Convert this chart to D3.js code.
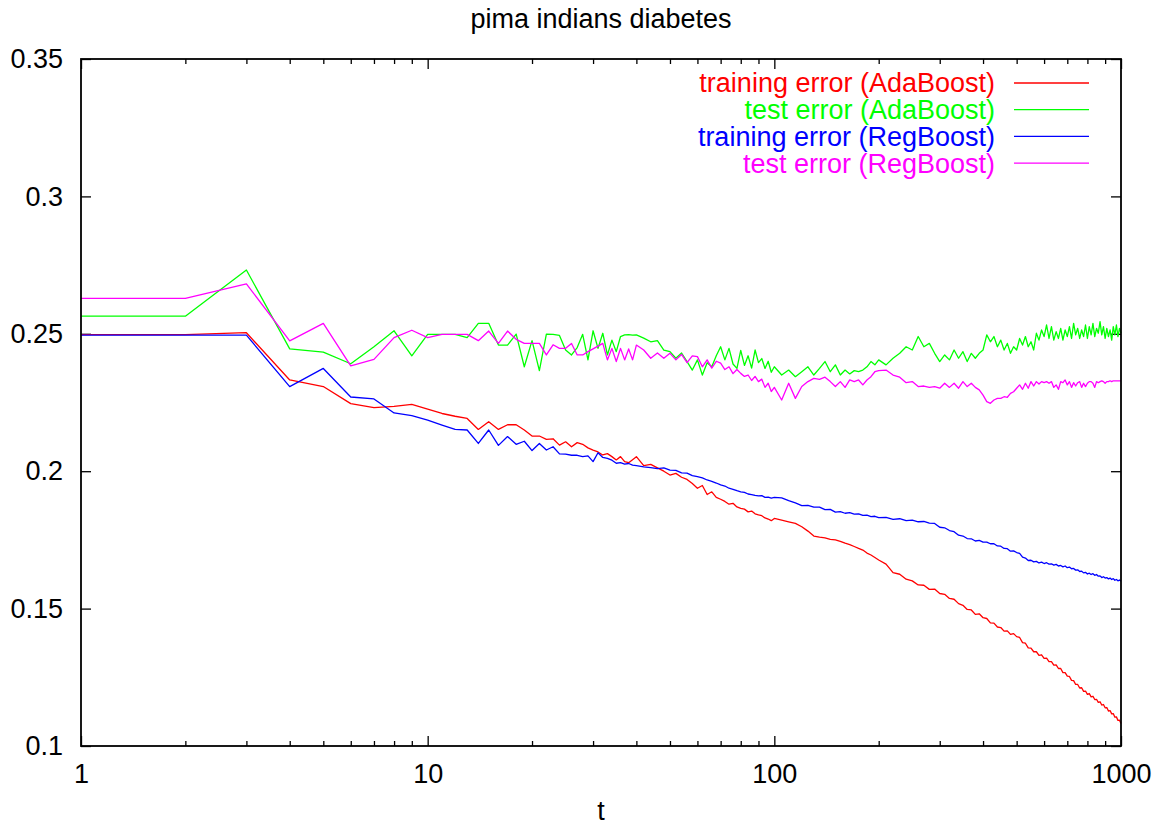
<!DOCTYPE html>
<html>
<head>
<meta charset="utf-8">
<script src="https://cdn.jsdelivr.net/npm/d3@7"></script>
<style>
  body { margin: 0; background: #fff; }
  text { font-family: "Liberation Sans", Arial, sans-serif; }
</style>
</head>
<body>
<div id="my_dataviz"></div>
<script>
// iteration grid t (1..40, then every 2, 5, 10)
var tValues = d3.range(1, 41)
  .concat(d3.range(42, 101, 2))
  .concat(d3.range(105, 201, 5))
  .concat(d3.range(210, 1001, 10));

var trainAda = [
  0.2497,0.2497,0.2504,0.2332,0.2308,0.2246,0.2231,0.2236,0.2243,0.2226,
  0.2210,0.2200,0.2192,0.2152,0.2180,0.2152,0.2169,0.2169,0.2150,0.2128,
  0.2128,0.2116,0.2118,0.2095,0.2107,0.2089,0.2104,0.2098,0.2085,0.2077,
  0.2070,0.2059,0.2064,0.2053,0.2041,0.2053,0.2035,0.2031,0.2042,0.2053,
  // 42..100
  0.2020,0.2025,0.2012,0.2000,0.1986,0.1992,0.1978,0.1970,0.1955,0.1938,
  0.1948,0.1915,0.1925,0.1905,0.1898,0.1890,0.1880,0.1883,0.1870,0.1865,
  0.1862,0.1852,0.1855,0.1845,0.1841,0.1838,0.1830,0.1826,0.1820,0.1828,
  // 105..200
  0.1822,0.1816,0.1810,0.1798,0.1782,0.1764,0.1760,0.1757,0.1752,0.1750,
  0.1745,0.1738,0.1733,0.1726,0.1719,0.1713,0.1702,0.1695,0.1686,0.1677,
  // 210..1000
  0.1662,0.1631,0.1625,0.1607,0.1601,0.1586,0.1585,0.1570,0.1571,0.1555,
  0.1552,0.1537,0.1534,0.1518,0.1512,0.1497,0.1495,0.1479,0.1481,0.1467,
  0.1464,0.1448,0.1447,0.1433,0.1431,0.1418,0.1419,0.1406,0.1409,0.1398,
  0.1395,0.1376,0.1374,0.1357,0.1356,0.1343,0.1343,0.1330,0.1332,0.1319,
  0.1320,0.1307,0.1307,0.1294,0.1295,0.1282,0.1282,0.1267,0.1267,0.1254,
  0.1253,0.1239,0.1238,0.1224,0.1224,0.1211,0.1212,0.1199,0.1200,0.1188,
  0.1191,0.1179,0.1181,0.1169,0.1170,0.1159,0.1161,0.1149,0.1151,0.1139,
  0.1140,0.1127,0.1129,0.1117,0.1118,0.1105,0.1106,0.1093,0.1094,0.1082
];

var testAda = [
  0.2564,0.2564,0.2732,0.2445,0.2433,0.2391,0.2453,0.2511,0.2420,0.2498,
  0.2498,0.2498,0.2486,0.2538,0.2538,0.2459,0.2459,0.2499,0.2380,0.2475,
  0.2366,0.2499,0.2498,0.2494,0.2441,0.2423,0.2450,0.2498,0.2405,0.2511,
  0.2447,0.2502,0.2423,0.2477,0.2435,0.2490,0.2496,0.2497,0.2495,0.2496,
  0.2484,0.2471,0.2475,0.2441,0.2435,0.2411,0.2430,0.2399,0.2368,0.2405,
  0.2350,0.2395,0.2380,0.2420,0.2453,0.2405,0.2447,0.2390,0.2374,0.2440,
  0.2385,0.2420,0.2375,0.2441,0.2395,0.2410,0.2374,0.2400,0.2360,0.2380,
  0.2350,0.2368,0.2344,0.2362,0.2380,0.2350,0.2374,0.2399,0.2362,0.2387,
  0.2350,0.2368,0.2354,0.2366,0.2362,0.2368,0.2380,0.2399,0.2387,0.2405,
  0.2387,0.2411,0.2429,0.2453,0.2441,0.2490,0.2453,0.2465,0.2429,0.2399,
  0.2423,0.2405,0.2441,0.2411,0.2435,0.2399,0.2429,0.2411,0.2429,0.2441,
  0.2496,0.2471,0.2490,0.2453,0.2477,0.2441,0.2465,0.2429,0.2453,0.2441,
  0.2483,0.2459,0.2490,0.2453,0.2471,0.2441,0.2502,0.2477,0.2514,0.2490,
  0.2532,0.2483,0.2526,0.2477,0.2508,0.2483,0.2520,0.2477,0.2514,0.2490,
  0.2526,0.2483,0.2538,0.2496,0.2520,0.2483,0.2514,0.2490,0.2532,0.2483,
  0.2526,0.2496,0.2538,0.2490,0.2520,0.2502,0.2544,0.2496,0.2526,0.2483,
  0.2520,0.2490,0.2514,0.2477,0.2526,0.2496,0.2532,0.2490,0.2520,0.2502
];

var trainReg = [
  0.2495,0.2495,0.2495,0.2308,0.2374,0.2270,0.2263,0.2212,0.2202,0.2186,
  0.2168,0.2152,0.2150,0.2101,0.2150,0.2094,0.2126,0.2098,0.2109,0.2075,
  0.2101,0.2077,0.2089,0.2063,0.2062,0.2058,0.2058,0.2053,0.2056,0.2035,
  0.2067,0.2050,0.2047,0.2040,0.2029,0.2031,0.2026,0.2028,0.2022,0.2020,
  0.2016,0.2013,0.2009,0.2012,0.2004,0.2003,0.1994,0.1993,0.1984,0.1980,
  0.1976,0.1968,0.1963,0.1957,0.1950,0.1946,0.1938,0.1934,0.1929,0.1925,
  0.1923,0.1917,0.1915,0.1912,0.1910,0.1911,0.1905,0.1906,0.1902,0.1905,
  0.1903,0.1893,0.1885,0.1875,0.1876,0.1869,0.1869,0.1860,0.1861,0.1851,
  0.1853,0.1847,0.1849,0.1844,0.1845,0.1839,0.1840,0.1835,0.1836,0.1831,
  0.1832,0.1825,0.1827,0.1820,0.1822,0.1816,0.1817,0.1811,0.1810,0.1796,
  0.1794,0.1784,0.1780,0.1767,0.1764,0.1755,0.1754,0.1746,0.1748,0.1742,
  0.1742,0.1736,0.1736,0.1728,0.1727,0.1719,0.1718,0.1709,0.1710,0.1704,
  0.1701,0.1687,0.1684,0.1675,0.1676,0.1670,0.1672,0.1666,0.1669,0.1664,
  0.1667,0.1662,0.1663,0.1658,0.1661,0.1655,0.1657,0.1652,0.1655,0.1649,
  0.1651,0.1645,0.1646,0.1640,0.1641,0.1635,0.1636,0.1630,0.1632,0.1626,
  0.1629,0.1624,0.1627,0.1621,0.1624,0.1618,0.1619,0.1613,0.1616,0.1611,
  0.1613,0.1608,0.1611,0.1606,0.1609,0.1603,0.1606,0.1601,0.1604,0.1600
];

var testReg = [
  0.2629,0.2629,0.2682,0.2474,0.2538,0.2383,0.2407,0.2486,0.2513,0.2486,
  0.2498,0.2498,0.2498,0.2475,0.2510,0.2465,0.2510,0.2480,0.2465,0.2465,
  0.2465,0.2423,0.2460,0.2447,0.2447,0.2465,0.2423,0.2423,0.2435,0.2445,
  0.2455,0.2465,0.2405,0.2447,0.2399,0.2447,0.2405,0.2445,0.2405,0.2459,
  0.2441,0.2411,0.2430,0.2411,0.2429,0.2405,0.2425,0.2395,0.2420,0.2417,
  0.2380,0.2405,0.2375,0.2400,0.2393,0.2370,0.2380,0.2355,0.2370,0.2356,
  0.2345,0.2350,0.2330,0.2345,0.2326,0.2335,0.2305,0.2320,0.2290,0.2305,
  0.2259,0.2320,0.2265,0.2308,0.2326,0.2338,0.2334,0.2342,0.2326,0.2308,
  0.2326,0.2305,0.2332,0.2326,0.2332,0.2314,0.2332,0.2344,0.2362,0.2366,
  0.2368,0.2350,0.2342,0.2322,0.2326,0.2308,0.2310,0.2305,0.2308,0.2302,
  0.2320,0.2305,0.2320,0.2302,0.2326,0.2308,0.2320,0.2305,0.2296,0.2277,
  0.2253,0.2247,0.2259,0.2265,0.2265,0.2271,0.2269,0.2283,0.2289,0.2302,
  0.2314,0.2298,0.2320,0.2302,0.2326,0.2310,0.2326,0.2317,0.2326,0.2322,
  0.2326,0.2320,0.2326,0.2305,0.2314,0.2298,0.2326,0.2322,0.2332,0.2314,
  0.2326,0.2305,0.2322,0.2310,0.2322,0.2326,0.2305,0.2320,0.2308,0.2320,
  0.2326,0.2326,0.2320,0.2305,0.2326,0.2322,0.2326,0.2329,0.2326,0.2320,
  0.2326,0.2326,0.2329,0.2326,0.2329,0.2329,0.2329,0.2329,0.2329,0.2329
];

var seriesNames = ["training error (AdaBoost)", "test error (AdaBoost)",
                   "training error (RegBoost)", "test error (RegBoost)"];
var seriesColors = ["#ff0000", "#00ff00", "#0000ff", "#ff00ff"];
var seriesValues = [trainAda, testAda, trainReg, testReg];

var xMajor = [1, 10, 100, 1000];
var yTicks = [0.1, 0.15, 0.2, 0.25, 0.3, 0.35];

var W = 1161, H = 826;
var margin = {top: 59, right: 40, bottom: 80, left: 81};
var width = W - margin.left - margin.right,
    height = H - margin.top - margin.bottom;

var svg = d3.select("#my_dataviz")
  .append("svg")
    .attr("width", W)
    .attr("height", H);

var g = svg.append("g")
    .attr("transform", "translate(" + margin.left + "," + margin.top + ")");

var x = d3.scaleLog()
  .domain([1, 1000])
  .range([0, width]);

var y = d3.scaleLinear()
  .domain([0.1, 0.35])
  .range([height, 0]);

var xMinor = [];
[1, 10, 100].forEach(function(d) {
  for (var k = 2; k <= 9; k++) xMinor.push(d * k);
});

function styleAxis(sel) {
  sel.select(".domain").remove();
  sel.selectAll("line").attr("stroke", "#000").attr("stroke-width", 1.3);
  sel.selectAll("text")
    .attr("fill", "#000")
    .style("font-size", "27px");
}

// bottom / top ticks (inward)
g.append("g")
  .attr("transform", "translate(0," + height + ")")
  .call(d3.axisBottom(x).tickValues(xMajor).tickSize(-10).tickPadding(18)
    .tickFormat(d3.format("d")))
  .call(styleAxis);

g.append("g")
  .attr("transform", "translate(0," + height + ")")
  .call(d3.axisBottom(x).tickValues(xMinor).tickSize(-5).tickFormat(""))
  .call(styleAxis);

g.append("g")
  .call(d3.axisTop(x).tickValues(xMajor).tickSize(-10).tickFormat(""))
  .call(styleAxis);

g.append("g")
  .call(d3.axisTop(x).tickValues(xMinor).tickSize(-5).tickFormat(""))
  .call(styleAxis);

// left / right ticks
g.append("g")
  .call(d3.axisLeft(y).tickValues(yTicks).tickSize(-10).tickPadding(18)
    .tickFormat(d3.format("")))
  .call(styleAxis);

g.append("g")
  .attr("transform", "translate(" + width + ",0)")
  .call(d3.axisRight(y).tickValues(yTicks).tickSize(-10).tickFormat(""))
  .call(styleAxis);

// the lines
var line = d3.line()
  .x(function(d) { return x(d[0]); })
  .y(function(d) { return y(d[1]); })
  .curve(d3.curveLinear);

seriesValues.forEach(function(vals, i) {
  g.append("path")
    .datum(tValues.map(function(t, j) { return [t, vals[j]]; }))
    .attr("fill", "none")
    .attr("stroke", seriesColors[i])
    .attr("stroke-width", 1.3)
    .attr("stroke-linejoin", "round")
    .attr("d", line);
});

// frame
g.append("rect")
  .attr("width", width)
  .attr("height", height)
  .attr("fill", "none")
  .attr("stroke", "#000")
  .attr("stroke-width", 1.8);

// legend
var legend = g.append("g");
seriesNames.forEach(function(name, i) {
  var yy = 24 + i * 26.7;
  legend.append("text")
    .attr("x", 914)
    .attr("y", yy)
    .attr("dy", "0.35em")
    .attr("text-anchor", "end")
    .attr("fill", seriesColors[i])
    .style("font-size", "27px")
    .text(name);
  legend.append("line")
    .attr("x1", 933).attr("x2", 1008)
    .attr("y1", yy).attr("y2", yy)
    .attr("stroke", seriesColors[i])
    .attr("stroke-width", 1.3);
});

// title and x label
svg.append("text")
  .attr("x", 601)
  .attr("y", 28)
  .attr("text-anchor", "middle")
  .style("font-size", "27px")
  .text("pima indians diabetes");

svg.append("text")
  .attr("x", 601)
  .attr("y", 820)
  .attr("text-anchor", "middle")
  .style("font-size", "27px")
  .text("t");
</script>
</body>
</html>
